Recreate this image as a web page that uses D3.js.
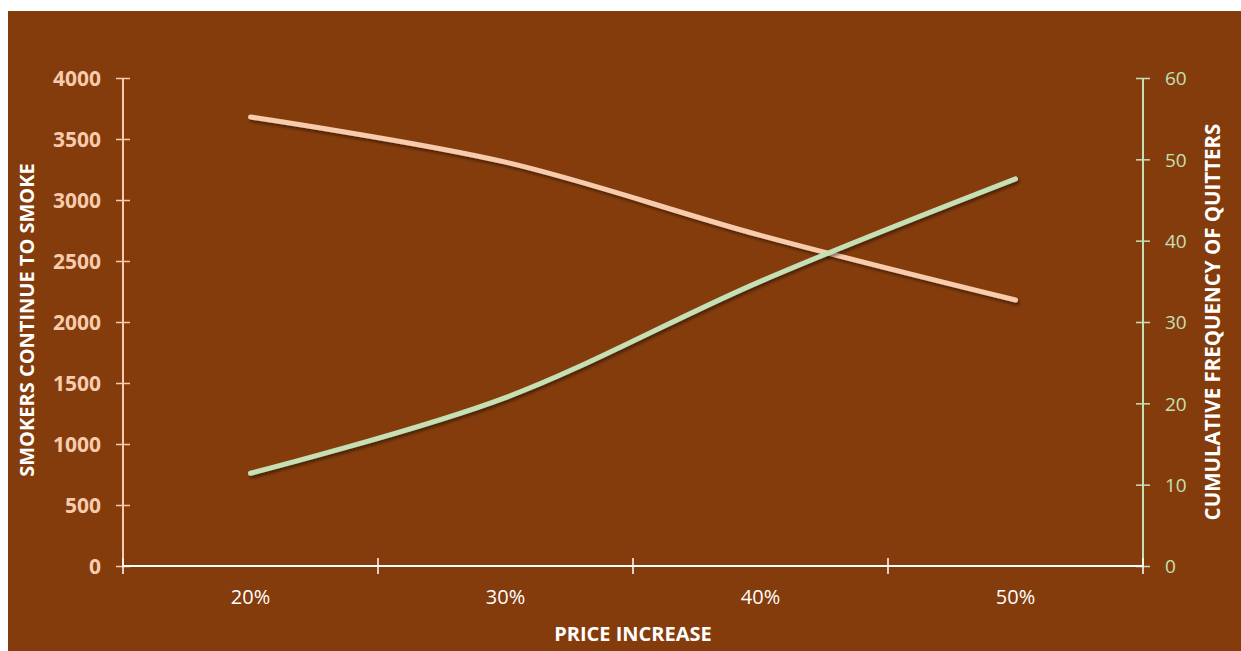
<!DOCTYPE html>
<html>
<head>
<meta charset="utf-8">
<script src="https://cdn.jsdelivr.net/npm/d3@7"></script>
<style>
  html, body { margin: 0; padding: 0; background: #ffffff; }
  svg { display: block; }
</style>
</head>
<body>
<div id="chart"></div>
<script>
// Data
const categories = ["20%", "30%", "40%", "50%"];
const smokers = [3680, 3310, 2710, 2180];       // left axis
const quitters = [11.4, 20.7, 35.0, 47.6];      // right axis
const leftTicks = [0, 500, 1000, 1500, 2000, 2500, 3000, 3500, 4000];
const rightTicks = [0, 10, 20, 30, 40, 50, 60];

const width = 1241, height = 651;
const margin = { top: 78, right: 98, bottom: 85, left: 123 };
const innerWidth = width - margin.left - margin.right;   // 1020
const innerHeight = height - margin.top - margin.bottom; // 488

const pink = "#F8CBAD", green = "#C5E0B4", brown = "#843C0C";
const font = "'Open Sans', sans-serif";

const root = d3.select("#chart").append("svg")
    .attr("width", width)
    .attr("height", height);

// brown chart area
root.append("rect")
    .attr("x", 8).attr("y", 11)
    .attr("width", width - 8).attr("height", height - 11)
    .attr("fill", brown);

// drop shadow for the lines
const defs = root.append("defs");
defs.append("filter")
    .attr("id", "shadow")
    .attr("x", "-10%").attr("y", "-10%")
    .attr("width", "120%").attr("height", "140%")
    .append("feDropShadow")
    .attr("dx", 1.5).attr("dy", 2.5)
    .attr("stdDeviation", 1.8)
    .attr("flood-color", "#000")
    .attr("flood-opacity", 0.45);

const svg = root.append("g")
    .attr("transform", `translate(${margin.left},${margin.top})`);

// scales
const x = d3.scaleBand().domain(categories).range([0, innerWidth]).padding(0);
const yL = d3.scaleLinear().domain([0, 4000]).range([innerHeight, 0]);
const yR = d3.scaleLinear().domain([0, 60]).range([innerHeight, 0]);

// left axis (pink, bold labels, ticks crossing the line)
const gL = svg.append("g")
    .call(d3.axisLeft(yL).tickValues(leftTicks).tickFormat(d3.format("d")).tickSize(7).tickPadding(15))
    .attr("font-size", null).attr("font-family", null);
gL.select(".domain").attr("stroke", pink).attr("stroke-width", 2).attr("d", `M0,${innerHeight}V0`);
gL.selectAll(".tick line").attr("stroke", pink).attr("stroke-width", 1.5).attr("x1", -7).attr("x2", 7);
gL.selectAll(".tick text")
    .attr("fill", pink)
    .style("font-family", font)
    .style("font-size", "21px")
    .style("font-weight", "bold")
    .attr("dy", "0.36em");

// right axis (green)
const gR = svg.append("g")
    .attr("transform", `translate(${innerWidth},0)`)
    .call(d3.axisRight(yR).tickValues(rightTicks).tickFormat(d3.format("d")).tickSize(7).tickPadding(15))
    .attr("font-size", null).attr("font-family", null);
gR.select(".domain").attr("stroke", green).attr("stroke-width", 2).attr("d", `M0,${innerHeight}V0`);
gR.selectAll(".tick line").attr("stroke", green).attr("stroke-width", 1.5).attr("x1", -7).attr("x2", 7);
gR.selectAll(".tick text")
    .attr("fill", green)
    .style("font-family", font)
    .style("font-size", "19px")
    .attr("dy", "0.36em");

// bottom axis (white, ticks at category boundaries)
const gX = svg.append("g")
    .attr("transform", `translate(0,${innerHeight})`)
    .call(d3.axisBottom(x).tickSize(0).tickPadding(24))
    .attr("font-size", null).attr("font-family", null);
gX.select(".domain").attr("stroke", "#ffffff").attr("stroke-width", 2).attr("d", `M0,0H${innerWidth}`);
gX.selectAll(".tick text")
    .attr("fill", "#ffffff")
    .style("font-family", font)
    .style("font-size", "20px");
const bounds = categories.map(c => x(c)).concat([innerWidth]);
gX.selectAll(".bound")
    .data(bounds)
    .enter().append("line")
    .attr("class", "bound")
    .attr("x1", d => d).attr("x2", d => d)
    .attr("y1", -8).attr("y2", 8)
    .attr("stroke", "#ffffff")
    .attr("stroke-width", 1.5);

// axis titles
svg.append("text")
    .attr("transform", `translate(${27 - margin.left},${320 - margin.top}) rotate(-90)`)
    .attr("text-anchor", "middle")
    .attr("dy", "0.35em")
    .attr("fill", "#ffffff")
    .style("font-family", font)
    .style("font-size", "20px")
    .style("font-weight", "bold")
    .text("SMOKERS CONTINUE TO SMOKE");

svg.append("text")
    .attr("transform", `translate(${1213 - margin.left},${322 - margin.top}) rotate(-90)`)
    .attr("text-anchor", "middle")
    .attr("dy", "0.35em")
    .attr("fill", "#ffffff")
    .style("font-family", font)
    .style("font-size", "20.5px")
    .style("font-weight", "bold")
    .text("CUMULATIVE FREQUENCY OF QUITTERS");

svg.append("text")
    .attr("x", innerWidth / 2)
    .attr("y", 641 - margin.top)
    .attr("text-anchor", "middle")
    .attr("fill", "#ffffff")
    .style("font-family", font)
    .style("font-size", "20px")
    .style("font-weight", "bold")
    .text("PRICE INCREASE");

// lines (smoothed like the spreadsheet chart)
const cx = d => x(d) + x.bandwidth() / 2;

const lineL = d3.line()
    .x((d, i) => cx(categories[i]))
    .y(d => yL(d))
    .curve(d3.curveCardinal.tension(0));

const lineR = d3.line()
    .x((d, i) => cx(categories[i]))
    .y(d => yR(d))
    .curve(d3.curveCardinal.tension(0));

svg.append("path")
    .datum(smokers)
    .attr("fill", "none")
    .attr("stroke", pink)
    .attr("stroke-width", 5)
    .attr("stroke-linecap", "round")
    .attr("filter", "url(#shadow)")
    .attr("d", lineL);

svg.append("path")
    .datum(quitters)
    .attr("fill", "none")
    .attr("stroke", green)
    .attr("stroke-width", 5)
    .attr("stroke-linecap", "round")
    .attr("filter", "url(#shadow)")
    .attr("d", lineR);
</script>
</body>
</html>
